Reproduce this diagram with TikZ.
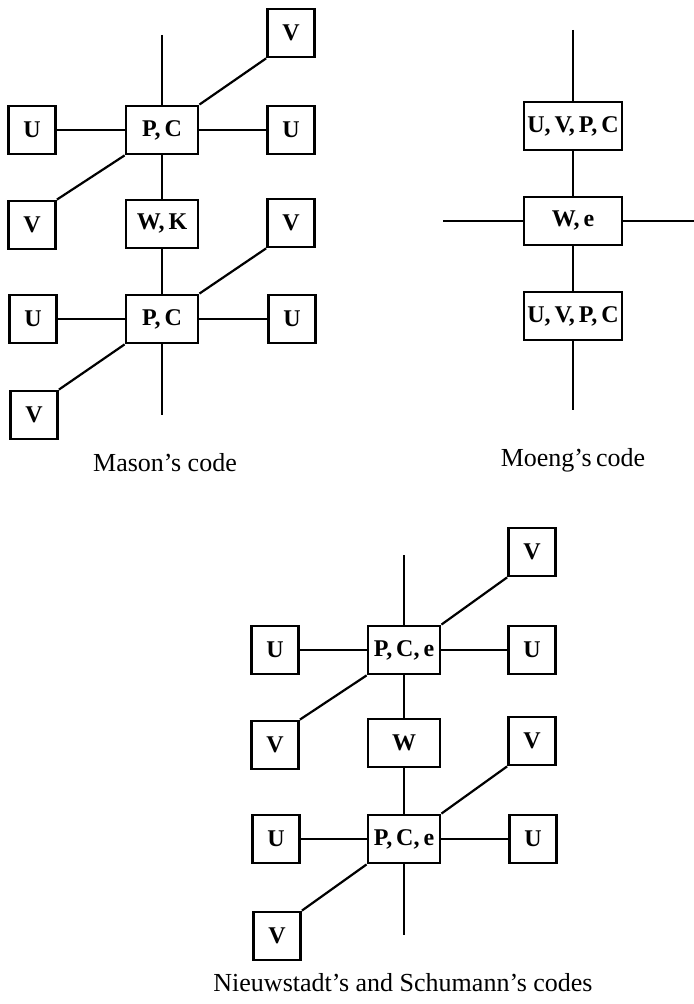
\documentclass[tikz,border=0pt]{standalone}
\usepackage{fontspec}
\setmainfont{Liberation Serif}
\usetikzlibrary{positioning}

\begin{document}
\begin{tikzpicture}[x=0.5pt,y=-0.5pt,
  every node/.style={font=\fontsize{12}{14}\selectfont\bfseries,align=center},
  cell/.style={draw,line width=1.4pt,minimum width=23.5pt,minimum height=24pt,inner sep=0.5pt},
  widecell/.style={cell,minimum width=36pt},
  longcell/.style={cell,minimum width=49pt},
  caption/.style={font=\fontsize{13}{15}\selectfont},
  link/.style={line width=1.1pt}]
\useasboundingbox (0,0) rectangle (694,1004);

% Mason's code
\node[cell] (mv1) at (291,33) {V};
\node[cell] (mu1) at (32,130) {U};
\node[widecell] (mpc1) at (162,130) {P,\,C};
\node[cell] (mu2) at (291,130) {U};
\node[cell] (mv2) at (32,225) {V};
\node[widecell] (mwk) at (162,224) {W,\,K};
\node[cell] (mv3) at (291,223) {V};
\node[cell] (mu3) at (33,319) {U};
\node[widecell] (mpc2) at (162,319) {P,\,C};
\node[cell] (mu4) at (292,319) {U};
\node[cell] (mv4) at (34,415) {V};
\coordinate (mtop) at (162,35);
\coordinate (mbot) at (162,415);
\draw[link] (mtop)--(mpc1.north);
\draw[link] (mu1)--(mpc1);
\draw[link] (mpc1)--(mu2);
\draw[link] (mpc1.north east)--(mv1.south west);
\draw[link] (mpc1.south west)--(mv2.north east);
\draw[link] (mpc1)--(mwk);
\draw[link] (mwk)--(mpc2);
\draw[link] (mu3)--(mpc2);
\draw[link] (mpc2)--(mu4);
\draw[link] (mpc2.north east)--(mv3.south west);
\draw[link] (mpc2.south west)--(mv4.north east);
\draw[link] (mpc2.south)--(mbot);
\node[caption] (mcap) at (165,463) {Mason's code};

% Moeng's code
\node[longcell] (guvpc1) at (573,126) {U,\,V,\,P,\,C};
\node[longcell] (gwe) at (573,221) {W,\,e};
\node[longcell] (guvpc2) at (573,316) {U,\,V,\,P,\,C};
\coordinate (gtop) at (573,30);
\coordinate (gbot) at (573,410);
\coordinate (gleft) at (443,221);
\coordinate (gright) at (694,221);
\draw[link] (gtop)--(guvpc1);
\draw[link] (guvpc1)--(gwe);
\draw[link] (gwe)--(guvpc2);
\draw[link] (guvpc2)--(gbot);
\draw[link] (gleft)--(gwe);
\draw[link] (gwe)--(gright);
\node[caption] (gcap) at (573,460) {Moeng's\,code};

% Nieuwstadt's and Schumann's codes
\node[cell] (nv1) at (532,552) {V};
\node[cell] (nu1) at (275,650) {U};
\node[widecell] (npc1) at (404,650) {P,\,C,\,e};
\node[cell] (nu2) at (532,650) {U};
\node[cell] (nv2) at (275,745) {V};
\node[widecell] (nw) at (404,743) {W};
\node[cell] (nv3) at (532,741) {V};
\node[cell] (nu3) at (276,839) {U};
\node[widecell] (npc2) at (404,839) {P,\,C,\,e};
\node[cell] (nu4) at (533,839) {U};
\node[cell] (nv4) at (277,936) {V};
\coordinate (ntop) at (404,555);
\coordinate (nbot) at (404,935);
\draw[link] (ntop)--(npc1.north);
\draw[link] (nu1)--(npc1);
\draw[link] (npc1)--(nu2);
\draw[link] (npc1.north east)--(nv1.south west);
\draw[link] (npc1.south west)--(nv2.north east);
\draw[link] (npc1)--(nw);
\draw[link] (nw)--(npc2);
\draw[link] (nu3)--(npc2);
\draw[link] (npc2)--(nu4);
\draw[link] (npc2.north east)--(nv3.south west);
\draw[link] (npc2.south west)--(nv4.north east);
\draw[link] (npc2.south)--(nbot);
\node[caption] (ncap) at (403,983) {Nieuwstadt's and Schumann's codes};
\end{tikzpicture}
\end{document}
